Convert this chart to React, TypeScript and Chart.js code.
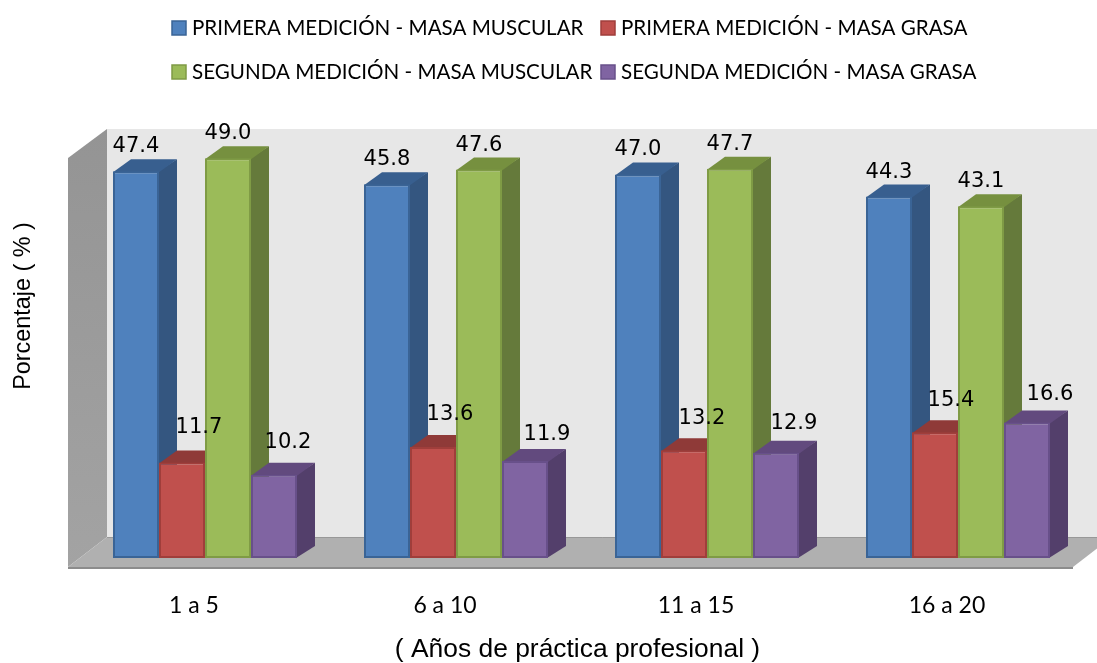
import { useEffect, useRef } from "react";
import { Chart, registerables } from "chart.js";

Chart.register(...registerables);

// Years of professional practice
const categories = ["1 a 5", "6 a 10", "11 a 15", "16 a 20"];

// Body composition percentages per measurement
const primeraMuscular = [47.4, 45.8, 47.0, 44.3];
const primeraGrasa = [11.7, 13.6, 13.2, 15.4];
const segundaMuscular = [49.0, 47.6, 47.7, 43.1];
const segundaGrasa = [10.2, 11.9, 12.9, 16.6];

const seriesNames = [
  "PRIMERA MEDICIÓN - MASA MUSCULAR",
  "PRIMERA MEDICIÓN - MASA GRASA",
  "SEGUNDA MEDICIÓN - MASA MUSCULAR",
  "SEGUNDA MEDICIÓN - MASA GRASA",
];

const xAxisTitle = "( Años de práctica profesional )";
const yAxisTitle = "Porcentaje ( % )";

// Shading for each series: front, outline, top face, side face
const palette = [
  { front: "#4F81BD", edge: "#3A6496", top: "#385F8F", side: "#345680" },
  { front: "#C0504D", edge: "#A03E3B", top: "#8F3A38", side: "#7F3432" },
  { front: "#9BBB59", edge: "#7F9B45", top: "#76903F", side: "#657A3B" },
  { front: "#8064A2", edge: "#68508A", top: "#624A7E", side: "#533F6B" },
];

// Where each value label sits relative to the top-centre of its bar's front face
const labelShiftX = [
  [0, 0, 0, 0],
  [17, 17, 18, 16],
  [0, 0, 0, 0],
  [14, 22, 18, 23],
];
const labelShiftY = [
  [-19, -19, -19, -19],
  [-30, -27, -26, -26],
  [-19, -19, -19, -19],
  [-27, -21, -24, -23],
];

const DEPTH_X = 18;
const DEPTH_Y = 12;

function poly(ctx: CanvasRenderingContext2D, pts: number[][], fill: string | CanvasGradient) {
  ctx.beginPath();
  pts.forEach(([x, y], i) => (i ? ctx.lineTo(x, y) : ctx.moveTo(x, y)));
  ctx.closePath();
  ctx.fillStyle = fill;
  ctx.fill();
}

function drawRoom(chart: any) {
  const { ctx } = chart;
  const { left, right, top, bottom } = chart.chartArea;
  const frontL = left - 11.5;
  const backL = left + 27.5;
  const frontR = right - 10.5;
  const backR = right + 28.5;
  const frontB = bottom + 9;
  const backB = bottom - 21;
  const frontT = top + 8;
  const backT = top - 21;
  ctx.save();
  poly(ctx, [[backL, backT], [backR, backT], [backR, backB], [backL, backB]], "#E7E7E7");
  const wall = ctx.createLinearGradient(0, backT, 0, frontB);
  wall.addColorStop(0, "#949494");
  wall.addColorStop(1, "#A3A3A3");
  poly(ctx, [[frontL, frontT], [backL, backT], [backL, backB], [frontL, frontB]], wall);
  poly(ctx, [[frontL, frontB], [backL, backB], [backR, backB], [frontR, frontB]], "#B0B0B0");
  ctx.strokeStyle = "#989898";
  ctx.lineWidth = 1;
  ctx.beginPath();
  ctx.moveTo(backL, backB + 0.5);
  ctx.lineTo(backR, backB + 0.5);
  ctx.stroke();
  ctx.strokeStyle = "#8C8C8C";
  ctx.lineWidth = 2;
  ctx.beginPath();
  ctx.moveTo(frontL, frontB + 1);
  ctx.lineTo(frontR, frontB + 1);
  ctx.stroke();
  ctx.restore();
}

// Paints the room, then the series left to right so that each bar's front
// covers the depth faces of its left neighbour. The faces run one pixel under
// the front so no wall colour bleeds through the shared edge.
const depthPlugin = {
  id: "depth",
  beforeDatasetsDraw(chart: any) {
    const { ctx } = chart;
    drawRoom(chart);
    chart.getSortedVisibleDatasetMetas().forEach((meta: any) => {
      const colors = palette[meta.index];
      ctx.save();
      meta.data.forEach((bar: any) => {
        const l = bar.x - bar.width / 2;
        const r = bar.x + bar.width / 2;
        const t = bar.y;
        const b = bar.base;
        poly(ctx, [[r - 1, t], [r + DEPTH_X, t - DEPTH_Y], [r + DEPTH_X, b - DEPTH_Y], [r - 1, b]], colors.side);
        poly(ctx, [[l, t + 1], [l + DEPTH_X, t - DEPTH_Y], [r + DEPTH_X, t - DEPTH_Y], [r, t + 1]], colors.top);
      });
      ctx.restore();
      meta.controller.draw();
    });
    return false;
  },
};

// Value labels, legend and axis titles on top of everything
const annotationPlugin = {
  id: "annotations",
  afterDraw(chart: any) {
    const { ctx } = chart;
    ctx.save();
    ctx.font = '21px "DejaVu Sans"';
    ctx.fillStyle = "#000000";
    ctx.textAlign = "center";
    ctx.textBaseline = "alphabetic";
    chart.data.datasets.forEach((ds: any, di: number) => {
      chart.getDatasetMeta(di).data.forEach((bar: any, i: number) => {
        ctx.fillText(ds.data[i].toFixed(1), bar.x + labelShiftX[di][i], bar.y + labelShiftY[di][i]);
      });
    });

    const columns = [172, 601];
    const rows = [28, 72];
    ctx.font = "20.6px Lato";
    ctx.textAlign = "left";
    ctx.textBaseline = "middle";
    chart.data.datasets.forEach((ds: any, i: number) => {
      const x = columns[i % 2];
      const y = rows[Math.floor(i / 2)];
      ctx.fillStyle = palette[i].front;
      ctx.strokeStyle = palette[i].edge;
      ctx.lineWidth = 1.5;
      ctx.fillRect(x, y - 7, 14, 14);
      ctx.strokeRect(x, y - 7, 14, 14);
      ctx.fillStyle = "#000000";
      ctx.fillText(ds.label, x + 20, y);
    });

    ctx.textAlign = "center";
    ctx.font = '26.4px "Liberation Sans"';
    ctx.fillText(xAxisTitle, 577.5, 650);
    ctx.translate(24, 306);
    ctx.rotate(-Math.PI / 2);
    ctx.font = '23.4px "Liberation Sans"';
    ctx.fillText(yAxisTitle, 0, 0);
    ctx.restore();
  },
};

export default function App() {
  const ref = useRef<HTMLCanvasElement | null>(null);

  useEffect(() => {
    const series = [primeraMuscular, primeraGrasa, segundaMuscular, segundaGrasa];
    const chart = new Chart(ref.current as HTMLCanvasElement, {
      type: "bar",
      data: {
        labels: categories,
        datasets: series.map((data, i) => ({
          label: seriesNames[i],
          data,
          backgroundColor: palette[i].front,
          borderColor: palette[i].edge,
          borderWidth: 2,
          borderSkipped: false,
          barPercentage: 1,
          categoryPercentage: 184 / 251,
        })),
      },
      options: {
        responsive: false,
        animation: false,
        layout: { padding: { top: 150, right: 13.5, left: 0, bottom: 0 } },
        plugins: { legend: { display: false }, tooltip: { enabled: false } },
        scales: {
          x: {
            grid: { display: false },
            border: { display: false },
            ticks: {
              padding: 26,
              labelOffset: -11,
              color: "#000000",
              font: { family: "Lato", size: 23 },
              maxRotation: 0,
            },
            afterFit: (s: any) => {
              s.height = 105;
            },
          },
          y: {
            min: 0,
            max: 50,
            grid: { display: false },
            border: { display: false },
            ticks: { display: false },
            afterFit: (s: any) => {
              s.width = 79.5;
            },
          },
        },
      },
      plugins: [depthPlugin, annotationPlugin],
    });
    return () => chart.destroy();
  }, []);

  return (
    <div style={{ position: "absolute", left: 0, top: 0, width: 1097, height: 663, background: "#ffffff" }}>
      <canvas ref={ref} width={1097} height={663} style={{ display: "block" }} />
    </div>
  );
}
